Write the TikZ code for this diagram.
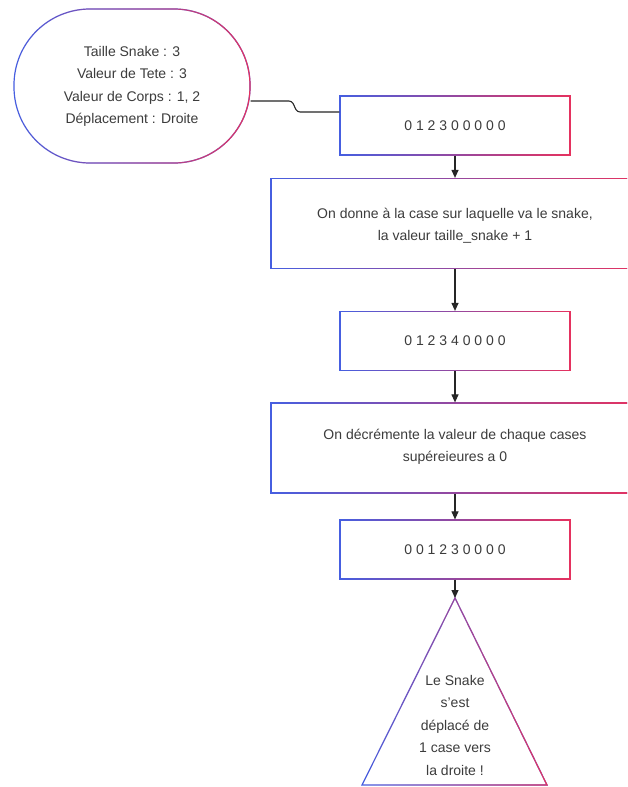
\documentclass[tikz,border=0pt]{standalone}
\usepackage{fontspec}
\setmainfont{Liberation Sans}
\usetikzlibrary{fadings,arrows.meta,calc}
\definecolor{bl}{RGB}{70,95,225}
\definecolor{rd}{RGB}{230,50,95}
\definecolor{txt}{RGB}{60,60,60}
\tikzfading[name=lr, left color=transparent!100, right color=transparent!0]
\begin{document}
\begin{tikzpicture}[x=1pt,y=-1pt,
  gb/.style={draw=bl, line width=1.2pt, fill=white, postaction={draw=rd, line width=1.2pt, path fading=lr}},
  smallbox/.style={gb, rectangle, minimum width=230pt, minimum height=59pt, inner sep=0pt},
  widebox/.style={gb, rectangle, minimum width=368pt, minimum height=90pt, inner sep=0pt},
  lbl/.style={text=txt, align=center, font=\fontsize{14}{22.5}\selectfont},
  conn/.style={draw=black!85, line width=1.1pt},
  arr/.style={conn, -{Triangle[length=8pt,width=7pt]}}]
\useasboundingbox (0,0) rectangle (627,787);
\clip (0,0) rectangle (627,787);
\fill[white] (0,0) rectangle (627,787);

\node[gb, rectangle, rounded corners=76pt, minimum width=236pt, minimum height=154pt, inner sep=0pt] (st) at (132,86) {};
\node[lbl] (stt) at (132,86.5) {Taille Snake : 3\\Valeur de Tete : 3\\Valeur de Corps : 1, 2\\Déplacement : Droite};

\node[smallbox] (b1) at (455,125.5) {};
\node[lbl] at (b1) {0 1 2 3 0 0 0 0 0};
\node[widebox] (b2) at (455,223.5) {};
\node[lbl] at (455,225.5) {On donne à la case sur laquelle va le snake,\\la valeur taille\_snake + 1};
\node[smallbox] (b3) at (455,341) {};
\node[lbl] at (b3) {0 1 2 3 4 0 0 0 0};
\node[widebox] (b4) at (455,448) {};
\node[lbl] at (455,447) {On décrémente la valeur de chaque cases\\supéreieures a 0};
\node[smallbox] (b5) at (455,549.5) {};
\node[lbl] at (b5) {0 0 1 2 3 0 0 0 0};

\coordinate (apex) at (455,598);
\coordinate (bl1) at (362,785);
\coordinate (br1) at (547,785);
\path[gb] (apex) -- (br1) -- (bl1) -- cycle;
\node[lbl] (tri) at (455,725) {Le Snake\\s'est\\déplacé de\\1 case vers\\la droite !};

\coordinate (s0) at ([yshift=-15pt]st.east);
\coordinate (e0) at ([yshift=13.5pt]b1.west);
\draw[conn, rounded corners=3pt] (s0) -- (292,101) -- (297,112) -- (e0);
\draw[arr] (b1.south) -- (b2.north);
\draw[arr] (b2.south) -- (b3.north);
\draw[arr] (b3.south) -- (b4.north);
\draw[arr] (b4.south) -- (b5.north);
\draw[arr] (b5.south) -- (apex);
\end{tikzpicture}
\end{document}
